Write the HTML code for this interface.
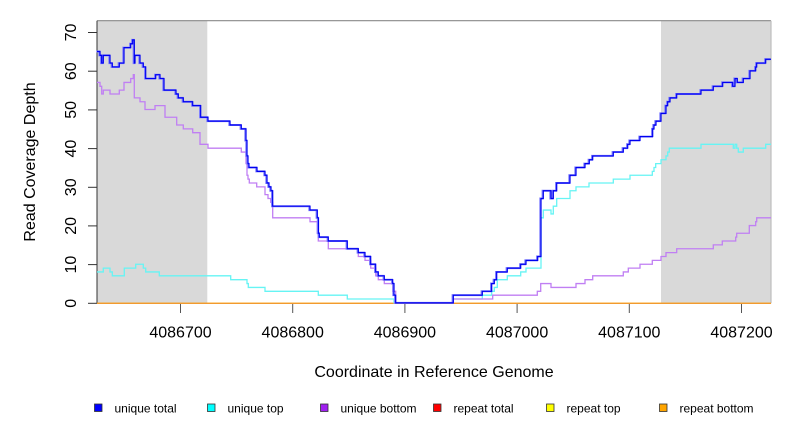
<!DOCTYPE html>
<html><head><meta charset="utf-8"><style>
html,body{margin:0;padding:0;background:#fff;}
svg{display:block;}
text{font-family:"Liberation Sans",Arial,sans-serif;fill:#000;}
</style></head><body>
<svg width="792" height="432" viewBox="0 0 792 432" xmlns="http://www.w3.org/2000/svg">
<rect x="0" y="0" width="792" height="432" fill="#fff"/>
<!-- shaded regions -->
<rect x="97" y="20.7" width="110.3" height="282.6" fill="#d9d9d9"/>
<rect x="661" y="20.7" width="110" height="282.6" fill="#d9d9d9"/>
<!-- box -->
<line x1="97" y1="20.7" x2="771" y2="20.7" stroke="#8a8a8a" stroke-width="1.2"/>
<line x1="771" y1="20.7" x2="771" y2="303.3" stroke="#bdbdbd" stroke-width="1.2"/>
<line x1="97" y1="20.7" x2="97" y2="303.3" stroke="#333" stroke-width="1"/>
<!-- y ticks -->
<g stroke="#333" stroke-width="1">
<line x1="88" y1="303.3" x2="97" y2="303.3"/>
<line x1="88" y1="264.6" x2="97" y2="264.6"/>
<line x1="88" y1="225.9" x2="97" y2="225.9"/>
<line x1="88" y1="187.3" x2="97" y2="187.3"/>
<line x1="88" y1="148.6" x2="97" y2="148.6"/>
<line x1="88" y1="109.9" x2="97" y2="109.9"/>
<line x1="88" y1="71.2" x2="97" y2="71.2"/>
<line x1="88" y1="32.5" x2="97" y2="32.5"/>
</g>
<g font-size="16" text-anchor="middle">
<text transform="translate(76,303.3) rotate(-90)">0</text>
<text transform="translate(76,264.6) rotate(-90)">10</text>
<text transform="translate(76,225.9) rotate(-90)">20</text>
<text transform="translate(76,187.3) rotate(-90)">30</text>
<text transform="translate(76,148.6) rotate(-90)">40</text>
<text transform="translate(76,109.9) rotate(-90)">50</text>
<text transform="translate(76,71.2) rotate(-90)">60</text>
<text transform="translate(76,32.5) rotate(-90)">70</text>
</g>
<!-- x ticks -->
<g stroke="#555" stroke-width="1">
<line x1="180.5" y1="304" x2="180.5" y2="313"/>
<line x1="292.7" y1="304" x2="292.7" y2="313"/>
<line x1="404.9" y1="304" x2="404.9" y2="313"/>
<line x1="517.1" y1="304" x2="517.1" y2="313"/>
<line x1="629.3" y1="304" x2="629.3" y2="313"/>
<line x1="741.5" y1="304" x2="741.5" y2="313"/>
</g>
<g font-size="16" text-anchor="middle">
<text x="180.5" y="337.5">4086700</text>
<text x="292.7" y="337.5">4086800</text>
<text x="404.9" y="337.5">4086900</text>
<text x="517.1" y="337.5">4087000</text>
<text x="629.3" y="337.5">4087100</text>
<text x="741.5" y="337.5">4087200</text>
<text x="434" y="377">Coordinate in Reference Genome</text>
<text transform="translate(35,162) rotate(-90)">Read Coverage Depth</text>
</g>
<!-- repeat lines at zero -->
<line x1="97" y1="303.4" x2="771" y2="303.4" stroke="#ff0000" stroke-width="1.3"/>
<line x1="97" y1="303.4" x2="771" y2="303.4" stroke="#ffff00" stroke-width="1.3"/>
<line x1="97" y1="303.4" x2="771" y2="303.4" stroke="#f29a2e" stroke-width="1.3"/>
<!-- data series (x in px, y in value units) -->
<g transform="translate(0,302.9) scale(1,-3.868)" fill="none" stroke-linejoin="miter">
<path vector-effect="non-scaling-stroke" stroke="#66f4f4" stroke-width="1.3" d="M97 8 H103.3 V9 H110 V8 H112.3 V7 H124.3 V9 H135.7 V10 H143.3 V9 H145.7 V8 H159.3 V7 H230.7 V6 H247 V5 H248.3 V4 H265 V3 H318.3 V2 H347.3 V1 H394 V0 H453.3 V1 H482.3 V2 H491.7 V3 H494.3 V4 H497.3 V6 H507.3 V7 H520.7 V8 H526 V9 H541 V22 H543.3 V24 H551 V23 H553.3 V25 H556.7 V27 H570 V29 H576 V30 H589 V31 H613.3 V32 H630 V33 H652.3 V34 H654 V35 H655.7 V36 H661 V37 H666 V38 H667.7 V39 H669.3 V40 H701 V41 H733.3 V40 H735 V41 H736.7 V40 H738.3 V39 H743.3 V40 H765.7 V41 H771"/>
<path vector-effect="non-scaling-stroke" stroke="#c07ff3" stroke-width="1.3" d="M97 57 H100 V56 H101.7 V54 H103.3 V55 H110 V54 H119.3 V55 H124 V57 H130.7 V58 H133.3 V59 H134.3 V53 H140 V52 H145 V50 H155 V51 H165 V48 H176.7 V46 H183.3 V45 H192.7 V44 H200 V41 H208 V40 H241.3 V39 H246 V36 H247 V33 H248 V32 H249.3 V31 H256.7 V30 H265 V28 H268 V27 H270.7 V26 H272.7 V22 H310 V21 H317.3 V18 H318.3 V16 H328.3 V14 H358.3 V12 H365 V11 H370.7 V9 H375.7 V7 H378.3 V6 H384.3 V5 H392.7 V3 H395.7 V0 H453.3 V1 H492.7 V2 H537.3 V3 H540.7 V5 H551 V4 H576 V5 H585 V6 H592.7 V7 H623.3 V8 H628.3 V9 H640 V10 H652.3 V11 H661 V12 H666 V13 H676.7 V14 H713.3 V15 H722.3 V16 H735.7 V17 H736.7 V18 H749.3 V20 H755.7 V21 H756.7 V22 H771"/>
<path vector-effect="non-scaling-stroke" stroke="#8080ff" stroke-width="2" transform="translate(-0.7,0)" d="M97 65 H100 V64 H101.7 V62 H103.3 V64 H110 V62 H112.3 V61 H119.3 V62 H124 V66 H130.7 V67 H132.7 V68 H134.3 V62 H135 V64 H140 V62 H143.3 V61 H145.7 V58 H155.7 V59 H160 V58 H164 V55 H176 V54 H178.3 V53 H183.3 V52 H192.7 V51 H200.7 V48 H208 V47 H230 V46 H241.3 V45 H246 V42 H247 V38 H248 V36 H249 V35 H257 V34 H265 V33 H267 V31 H269 V30 H271 V29 H272.7 V25 H310 V24 H317.3 V22 H318.5 V18 H319.3 V17 H328.3 V16 H347.3 V14 H358.3 V13 H365 V12 H370.7 V10 H375.7 V8 H378.3 V7 H384.3 V6 H392.7 V5 H394 V2 H395.7 V0 H453.3 V2 H482.3 V3 H491.7 V5 H494.3 V6 H496.7 V8 H507.3 V9 H520.7 V10 H526 V11 H537.7 V12 H541 V27 H543.3 V29 H551 V27 H553.3 V29 H556.7 V31 H570 V33 H576 V35 H585 V36 H589.3 V37 H592.7 V38 H613.3 V39 H623.3 V40 H627.7 V41 H630 V42 H640 V43 H652.7 V45 H654 V46 H656 V47 H661 V49 H666 V51 H667.7 V52 H670 V53 H676.7 V54 H701 V55 H713.3 V56 H722.7 V57 H732.7 V56 H735 V58 H737.3 V57 H743.3 V58 H750 V60 H755.7 V61 H756.7 V62 H765.7 V63 H771"/>
<path vector-effect="non-scaling-stroke" stroke="#0000f0" stroke-width="1.2" d="M97 65 H100 V64 H101.7 V62 H103.3 V64 H110 V62 H112.3 V61 H119.3 V62 H124 V66 H130.7 V67 H132.7 V68 H134.3 V62 H135 V64 H140 V62 H143.3 V61 H145.7 V58 H155.7 V59 H160 V58 H164 V55 H176 V54 H178.3 V53 H183.3 V52 H192.7 V51 H200.7 V48 H208 V47 H230 V46 H241.3 V45 H246 V42 H247 V38 H248 V36 H249 V35 H257 V34 H265 V33 H267 V31 H269 V30 H271 V29 H272.7 V25 H310 V24 H317.3 V22 H318.5 V18 H319.3 V17 H328.3 V16 H347.3 V14 H358.3 V13 H365 V12 H370.7 V10 H375.7 V8 H378.3 V7 H384.3 V6 H392.7 V5 H394 V2 H395.7 V0 H453.3 V2 H482.3 V3 H491.7 V5 H494.3 V6 H496.7 V8 H507.3 V9 H520.7 V10 H526 V11 H537.7 V12 H541 V27 H543.3 V29 H551 V27 H553.3 V29 H556.7 V31 H570 V33 H576 V35 H585 V36 H589.3 V37 H592.7 V38 H613.3 V39 H623.3 V40 H627.7 V41 H630 V42 H640 V43 H652.7 V45 H654 V46 H656 V47 H661 V49 H666 V51 H667.7 V52 H670 V53 H676.7 V54 H701 V55 H713.3 V56 H722.7 V57 H732.7 V56 H735 V58 H737.3 V57 H743.3 V58 H750 V60 H755.7 V61 H756.7 V62 H765.7 V63 H771"/>
</g>
<!-- legend -->
<g stroke="#333" stroke-width="0.8">
<rect x="94.5" y="404" width="7.5" height="7.5" fill="#0000ff"/>
<rect x="207.5" y="404" width="7.5" height="7.5" fill="#00ffff"/>
<rect x="320.5" y="404" width="7.5" height="7.5" fill="#a020f0"/>
<rect x="433.5" y="404" width="7.5" height="7.5" fill="#ff0000"/>
<rect x="546.5" y="404" width="7.5" height="7.5" fill="#ffff00"/>
<rect x="659.5" y="404" width="7.5" height="7.5" fill="#ffa500"/>
</g>
<g font-size="12">
<text x="114.5" y="412.3">unique total</text>
<text x="227.5" y="412.3">unique top</text>
<text x="340.5" y="412.3">unique bottom</text>
<text x="453.5" y="412.3">repeat total</text>
<text x="566.5" y="412.3">repeat top</text>
<text x="679.5" y="412.3">repeat bottom</text>
</g>
</svg>
</body></html>
